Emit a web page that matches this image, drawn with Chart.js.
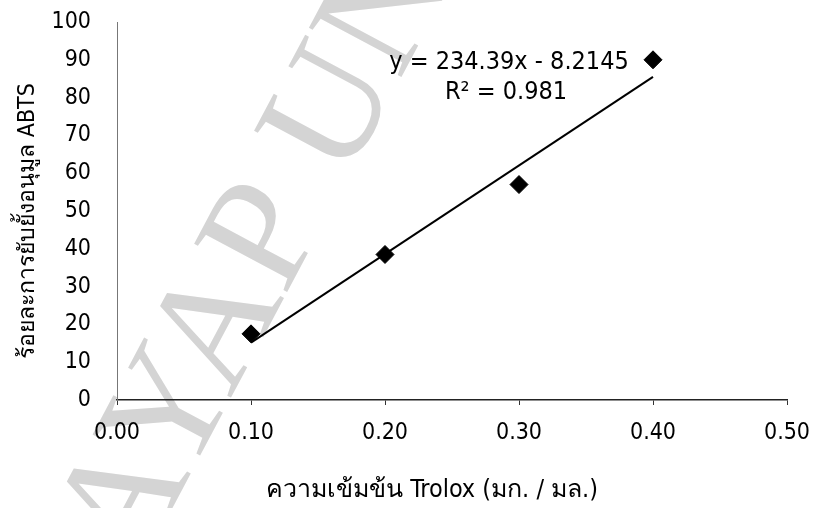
<!DOCTYPE html>
<html>
<head>
<meta charset="utf-8">
<script src="https://cdn.jsdelivr.net/npm/chart.js@4/dist/chart.umd.min.js"></script>
<style>
  html, body { margin: 0; padding: 0; background: #fff; }
  #wrap { width: 818px; height: 508px; }
</style>
</head>
<body>
<div id="wrap"><canvas id="abtsChart" width="818" height="508"></canvas></div>
<script>
// ข้อมูลที่อ่านจากกราฟ
const conc = [0.10, 0.20, 0.30, 0.40];
const inhibition = [17.5, 38.5, 57, 90];
const trendX = [0.10, 0.40];
const trendY = [15.2, 85.5];
const xTicks = [0.00, 0.10, 0.20, 0.30, 0.40, 0.50];
const yTicks = [0, 10, 20, 30, 40, 50, 60, 70, 80, 90, 100];
const equationText = "y = 234.39x - 8.2145";
const r2Text = "R² = 0.981";
const xTitle = "ความเข้มข้น Trolox (มก. / มล.)";
const yTitle = "ร้อยละการยับยั้งอนุมูล ABTS";
const watermark = "PAYAP UNIVERSITY";

const fontMain = '"DejaVu Sans Condensed", "Liberation Sans", sans-serif';

const watermarkPlugin = {
  id: "watermark",
  beforeDraw(chart) {
    const ctx = chart.ctx;
    ctx.save();
    ctx.translate(102, 640);
    ctx.rotate(-62 * Math.PI / 180);
    ctx.font = '160px "Liberation Serif", serif';
    ctx.fillStyle = "#d4d4d4";
    ctx.textBaseline = "alphabetic";
    ctx.fillText(watermark, 0, 0);
    ctx.restore();
  }
};

const labelsPlugin = {
  id: "labels",
  afterDraw(chart) {
    const ctx = chart.ctx;
    const y = chart.scales.y;
    ctx.save();
    ctx.fillStyle = "#000";
    ctx.textAlign = "center";
    ctx.textBaseline = "middle";
    ctx.font = "25px " + fontMain;
    ctx.fillText(equationText, 509, 62);
    ctx.fillText(r2Text, 506, 92);

    ctx.font = "25px " + fontMain;
    ctx.fillText(xTitle, 432, 490);

    ctx.translate(28, (y.top + y.bottom) / 2 + 10);
    ctx.rotate(-Math.PI / 2);
    ctx.font = "23px " + fontMain;
    ctx.fillText(yTitle, 0, 0);
    ctx.restore();
  }
};

new Chart(document.getElementById("abtsChart"), {
  type: "scatter",
  data: {
    datasets: [
      {
        label: "ข้อมูล",
        data: conc.map((c, i) => ({ x: c, y: inhibition[i] })),
        pointStyle: "rectRot",
        pointRadius: 9,
        pointHoverRadius: 9,
        backgroundColor: "#000",
        borderColor: "#000",
        order: 1
      },
      {
        type: "line",
        label: "Linear",
        data: trendX.map((c, i) => ({ x: c, y: trendY[i] })),
        borderColor: "#000",
        borderWidth: 2,
        pointRadius: 0,
        fill: false,
        order: 2
      }
    ]
  },
  options: {
    responsive: false,
    animation: false,
    layout: { padding: { top: 22, right: 31, left: 0, bottom: 0 } },
    plugins: {
      legend: { display: false },
      tooltip: { enabled: false }
    },
    scales: {
      x: {
        type: "linear",
        min: 0,
        max: 0.5,
        afterBuildTicks: axis => { axis.ticks = xTicks.map(v => ({ value: v })); },
        afterFit: axis => {
          axis.height = 108;
          axis.paddingLeft = 0;
          axis.paddingRight = 0;
        },
        border: { display: true, color: "#222", width: 1.5 },
        grid: { display: true, drawOnChartArea: false, drawTicks: true, tickLength: 5, color: "#333" },
        ticks: {
          padding: 14,
          color: "#000",
          font: { size: 23, family: fontMain },
          callback: v => Number(v).toFixed(2)
        }
      },
      y: {
        type: "linear",
        min: 0,
        max: 100,
        afterBuildTicks: axis => { axis.ticks = yTicks.map(v => ({ value: v })); },
        afterFit: axis => {
          axis.width = 117;
          axis.paddingTop = 0;
          axis.paddingBottom = 0;
        },
        border: { display: true, color: "#777", width: 1, dash: [2, 4] },
        grid: { display: false, drawTicks: false },
        ticks: {
          padding: 26,
          color: "#000",
          font: { size: 23, family: fontMain }
        }
      }
    }
  },
  plugins: [watermarkPlugin, labelsPlugin]
});
</script>
</body>
</html>
